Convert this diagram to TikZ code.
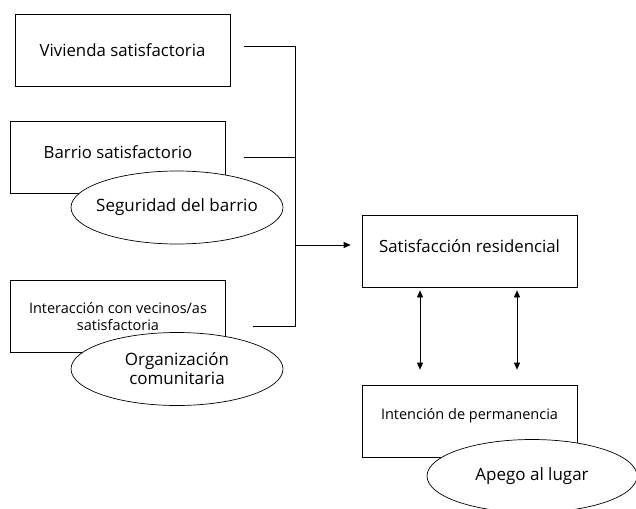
\documentclass[tikz,border=0pt]{standalone}
\usepackage{fontspec}
\setmainfont{Open Sans}
\usetikzlibrary{arrows.meta,shapes.geometric}
\begin{document}
\begin{tikzpicture}[x=1pt, y=-1pt, line width=0.7pt,
  caja/.style={draw, minimum width=215pt, minimum height=72pt, align=center, font=\fontsize{16.8}{19}\selectfont},
  cajachica/.style={caja, font=\fontsize{14.5}{17}\selectfont},
  elipse/.style={draw, fill=white, ellipse, minimum width=212pt, minimum height=73pt, inner xsep=-12pt, inner ysep=0pt, align=center, font=\fontsize{17}{19}\selectfont},
  flecha/.style={-{Triangle[length=7pt,width=6pt]}},
  dobleflecha/.style={{Triangle[length=7pt,width=6pt]}-{Triangle[length=7pt,width=6pt]}}]
\useasboundingbox (0,0) rectangle (636,508);
% columna izquierda
\node[caja] (B_1) at (122.5,50) {Vivienda satisfactoria};
\node[caja, text depth=10pt] (B_2) at (118,157) {Barrio satisfactorio};
\node[elipse] (E_2) at (177,207.5) {Seguridad del barrio};
\node[cajachica] (B_3) at (118,316.5) {Interacción con vecinos/as\\satisfactoria};
\node[elipse] (E_3) at (177,369) {Organización\\comunitaria};
% columna derecha
\node[caja, text depth=10pt] (S) at (469.5,251) {Satisfacción residencial};
\node[cajachica, text depth=15pt] (I) at (469.5,421) {Intención de permanencia};
\node[elipse, minimum width=210pt] (E_I) at (532,476) {Apego al lugar};
% bus
\coordinate (J_1) at (295,46);
\coordinate (J_2) at (295,157);
\coordinate (J_3) at (295,326);
\coordinate (J_S) at (295,245);
\draw ([shift={(14,-4)}]B_1.east) -- (J_1) -- (J_3) -- ([shift={(27,9.5)}]B_3.east);
\draw ([xshift=18pt]B_2.east) -- (J_2);
\draw[flecha] (J_S) -- ([shift={(-11,-6)}]S.west);
\draw[dobleflecha] ([shift={(-49.5,3)}]S.south) -- ([shift={(-49.5,-15)}]I.north);
\draw[dobleflecha] ([shift={(47.5,3)}]S.south) -- ([shift={(47.5,-15)}]I.north);
\end{tikzpicture}
\end{document}
